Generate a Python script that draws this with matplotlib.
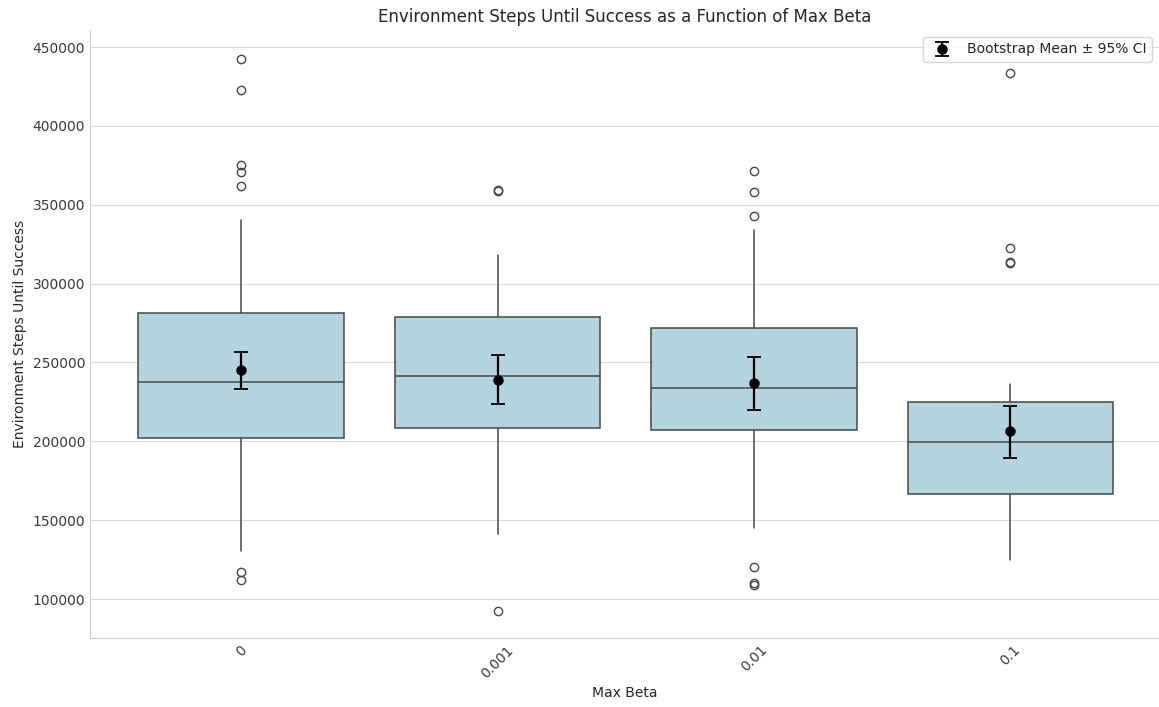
import matplotlib
matplotlib.use("Agg")
import matplotlib.pyplot as plt
import seaborn as sns

# 数据
max_beta = ["0", "0.001", "0.01", "0.1"]
q1 = [202100, 208400, 207200, 166600]
median = [237600, 241400, 233800, 199600]
q3 = [281400, 278800, 271800, 224900]
whisker_low = [130400, 141200, 145000, 124700]
whisker_high = [340300, 318100, 334000, 236300]
outliers = [
    [442400, 422800, 375200, 370800, 361900, 117100, 112000],
    [359400, 358800, 92400],
    [371400, 358100, 342900, 120300, 110100, 108900],
    [433500, 322600, 313700, 313100],
]
boot_mean = [245200, 238900, 237000, 206500]
ci_low = [233200, 223700, 219800, 189400]
ci_high = [256600, 254700, 253500, 222400]

sns.set_style("whitegrid")

fig = plt.figure(figsize=(11.59, 7.07), dpi=100)
ax = fig.add_axes([90 / 1159, 1 - 638 / 707, 1 - 90 / 1159, (638 - 30) / 707])

# 箱线图统计量
stats = []
for i in range(len(max_beta)):
    stats.append({
        "label": max_beta[i],
        "q1": q1[i], "med": median[i], "q3": q3[i],
        "whislo": whisker_low[i], "whishi": whisker_high[i],
        "fliers": outliers[i],
    })

line_color = "#474747"
positions = list(range(len(max_beta)))
ax.bxp(stats, positions=positions, widths=0.8, patch_artist=True,
       boxprops=dict(facecolor="#b4d5df", edgecolor=line_color, linewidth=1.1),
       medianprops=dict(color=line_color, linewidth=1.1),
       whiskerprops=dict(color=line_color, linewidth=1.1),
       capprops=dict(linewidth=0),
       flierprops=dict(marker="o", markerfacecolor="none",
                       markeredgecolor=line_color, markersize=6, linewidth=0))

# Bootstrap 均值和置信区间
yerr = [[m - lo for m, lo in zip(boot_mean, ci_low)],
        [hi - m for m, hi in zip(boot_mean, ci_high)]]
ax.errorbar(positions, boot_mean, yerr=yerr, fmt="o", color="black",
            markersize=6.5, capsize=5, elinewidth=1.6, capthick=1.3,
            label="Bootstrap Mean ± 95% CI", zorder=5)

ax.set_xlim(-0.589, 3.579)
ax.set_ylim(75300, 460800)
ax.set_xticks(positions)
ax.set_xticklabels(max_beta, rotation=45)
ax.tick_params(axis="both", labelsize=10, colors="#3a3a3a", length=0)
ax.set_xlabel("Max Beta", fontsize=10, color="#262626")
ax.set_ylabel("Environment Steps Until Success", fontsize=10, color="#262626")
ax.set_title("Environment Steps Until Success as a Function of Max Beta",
             fontsize=12, color="#262626")
ax.grid(True, axis="y", color="#d9d9d9")
ax.grid(False, axis="x")
ax.legend(loc="upper right", fontsize=10)
sns.despine(ax=ax)

fig.savefig("out.png", dpi=100)
